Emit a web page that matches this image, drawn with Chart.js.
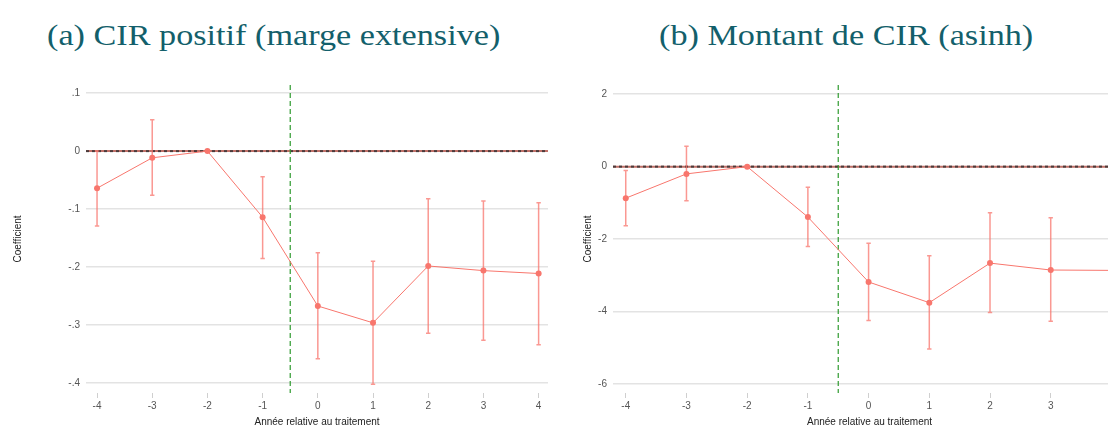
<!DOCTYPE html>
<html>
<head>
<meta charset="utf-8">
<script src="https://cdn.jsdelivr.net/npm/chart.js@4/dist/chart.umd.min.js"></script>
<style>
  html, body { margin:0; padding:0; background:#fff; width:1108px; height:428px; overflow:hidden; }
  #wrap { position:relative; width:1108px; height:428px; overflow:hidden; }
  .ttl { position:absolute; top:15px; height:40px; line-height:40px; font-family:"Liberation Serif", serif; font-size:30px; color:#135f6b; white-space:nowrap; transform-origin:0 0; }
  canvas { position:absolute; top:0; }
</style>
</head>
<body>
<div id="wrap">
  <div class="ttl" id="tA" style="left:274px">(a) CIR positif (marge extensive)</div>
  <div class="ttl" id="tB" style="left:846px">(b) Montant de CIR (asinh)</div>
  <canvas id="cA" width="560" height="428" style="left:0px"></canvas>
  <canvas id="cB" width="560" height="428" style="left:570px"></canvas>
</div>
<script>
// ---- data ----
const years = [-4, -3, -2, -1, 0, 1, 2, 3, 4];
const xTickLabels = ['-4', '-3', '-2', '-1', '0', '1', '2', '3', '4'];

const coefA = [-0.064, -0.0115, 0, -0.114, -0.267, -0.296, -0.198, -0.206, -0.211];
const lowA  = [-0.129, -0.076, 0, -0.185, -0.358, -0.402, -0.314, -0.326, -0.334];
const highA = [0.0, 0.054, 0, -0.044, -0.175, -0.190, -0.082, -0.086, -0.089];
const yTicksA = [0.1, 0, -0.1, -0.2, -0.3, -0.4];
const yLabelsA = ['.1', '0', '-.1', '-.2', '-.3', '-.4'];

const coefB = [-0.87, -0.20, 0, -1.39, -3.18, -3.75, -2.66, -2.85, -2.86];
const lowB  = [-1.63, -0.94, 0, -2.20, -4.24, -5.03, -4.02, -4.26, -4.30];
const highB = [-0.11, 0.56, 0, -0.57, -2.11, -2.46, -1.27, -1.41, -1.42];
const yTicksB = [2, 0, -2, -4, -6];
const yLabelsB = ['2', '0', '-2', '-4', '-6'];

const treatmentLine = -0.5;
const refLine = 0;

const RED = '#f8766d';
const SANS = "'Liberation Sans', Arial, sans-serif";

// center the horizontally stretched titles
document.querySelectorAll('.ttl').forEach(el => {
  const w = el.getBoundingClientRect().width * 1.14;
  const c = parseFloat(el.style.left);
  el.style.transform = 'scaleX(1.14)';
  el.style.left = (c - w / 2) + 'px';
});

const overlay = {
  id: 'overlay',
  beforeDatasetsDraw(chart, args, opts) {
    const {ctx, chartArea: a, scales: {x, y}} = chart;
    ctx.save();
    // zero reference line
    const y0 = y.getPixelForValue(refLine);
    ctx.lineWidth = 2;
    ctx.strokeStyle = '#c07068';
    ctx.beginPath(); ctx.moveTo(a.left, y0); ctx.lineTo(a.right, y0); ctx.stroke();
    ctx.strokeStyle = '#4a3c3c';
    ctx.setLineDash([3, 3]);
    ctx.beginPath(); ctx.moveTo(a.left, y0); ctx.lineTo(a.right, y0); ctx.stroke();
    // treatment line
    const xv = x.getPixelForValue(treatmentLine);
    ctx.lineWidth = 1.2;
    ctx.strokeStyle = '#2e9a2e';
    ctx.setLineDash([5, 3]);
    ctx.beginPath(); ctx.moveTo(xv, a.top); ctx.lineTo(xv, a.bottom); ctx.stroke();
    ctx.setLineDash([]);
    // error bars
    ctx.strokeStyle = 'rgba(248,118,109,0.75)';
    ctx.lineWidth = 1.5;
    opts.lo.forEach((lo, i) => {
      const hi = opts.hi[i];
      if (lo === hi) return;
      const px = x.getPixelForValue(opts.xs[i]);
      const pl = y.getPixelForValue(lo), ph = y.getPixelForValue(hi);
      ctx.beginPath();
      ctx.moveTo(px, pl); ctx.lineTo(px, ph);
      ctx.moveTo(px - 2.2, pl); ctx.lineTo(px + 2.2, pl);
      ctx.moveTo(px - 2.2, ph); ctx.lineTo(px + 2.2, ph);
      ctx.stroke();
    });
    ctx.restore();
  }
};

function makeChart(id, coef, lo, hi, yTicks, yLabels, ymin, ymax, xmin, xmax, yAxisW, padRight) {
  return new Chart(document.getElementById(id), {
    type: 'line',
    data: {
      datasets: [{
        data: years.map((v, i) => ({x: v, y: coef[i]})),
        borderColor: RED,
        backgroundColor: RED,
        borderWidth: 1,
        pointRadius: 3,
        pointBorderWidth: 0,
        pointBackgroundColor: RED,
        tension: 0,
        clip: false
      }]
    },
    options: {
      responsive: false,
      animation: false,
      devicePixelRatio: 1,
      layout: { padding: { top: 85, right: padRight, left: 0, bottom: 0 } },
      plugins: {
        legend: { display: false },
        tooltip: { enabled: false },
        overlay: { xs: years, lo: lo, hi: hi }
      },
      scales: {
        x: {
          type: 'linear', min: xmin, max: xmax,
          afterBuildTicks: s => { s.ticks = years.map(v => ({value: v})); },
          afterFit: s => { s.height = 35; },
          grid: { drawOnChartArea: false, drawTicks: true, tickLength: 5, color: '#cfcfcf', lineWidth: 1 },
          border: { display: false },
          ticks: { padding: 2, color: '#555', font: { family: SANS, size: 10 },
                   callback: (v) => xTickLabels[years.indexOf(v)] ?? '' , maxRotation: 0, autoSkip: false },
          title: { display: true, text: 'Année relative au traitement', color: '#222',
                   font: { family: SANS, size: 10 }, padding: { top: 0, bottom: 0 } }
        },
        y: {
          min: ymin, max: ymax,
          afterBuildTicks: s => { s.ticks = yTicks.map(v => ({value: v})); },
          afterFit: s => { s.width = yAxisW; },
          grid: { drawTicks: false, color: '#e3e3e3', lineWidth: 1.6 },
          border: { display: false },
          ticks: { padding: 6, color: '#555', font: { family: SANS, size: 10 },
                   callback: (v) => yLabels[yTicks.indexOf(v)] ?? '' },
          title: { display: true, text: 'Coefficient', color: '#222',
                   font: { family: SANS, size: 10 }, padding: { top: 12, bottom: 0 } }
        }
      }
    },
    plugins: [overlay]
  });
}

makeChart('cA', coefA, lowA, highA, yTicksA, yLabelsA, -0.417, 0.114, -4.2, 4.17, 86, 12);
makeChart('cB', coefB, lowB, highB, yTicksB, yLabelsB, -6.24, 2.25, -4.21, 4.24, 43, 1);
</script>
</body>
</html>
